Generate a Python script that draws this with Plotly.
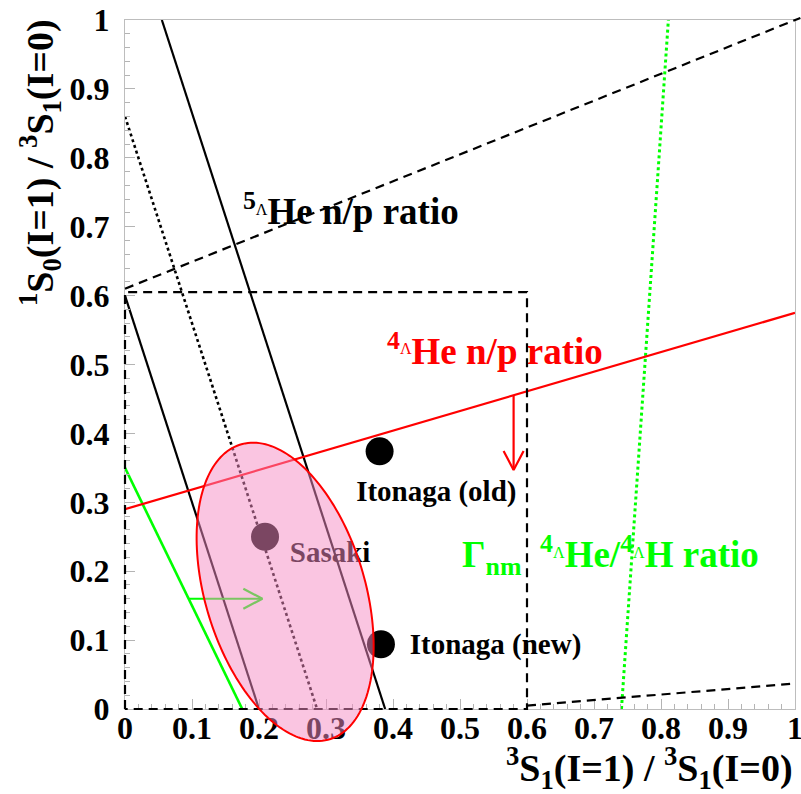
import numpy as np
import plotly.graph_objects as go

# ---------------------------------------------------------------
# axis ranges and ticks
x_range = [0.0, 1.0]
y_range = [0.0, 1.0]
tick_vals = [0.0, 0.1, 0.2, 0.3, 0.4, 0.5, 0.6, 0.7, 0.8, 0.9, 1.0]
tick_text = ["0", "0.1", "0.2", "0.3", "0.4", "0.5", "0.6", "0.7", "0.8", "0.9", "1"]

# decay-width constraint bands (black): y = c - 3 x
band_slope = -3.0
band_lo_c = 0.60
band_mid_c = 0.86
band_hi_c = 1.165

# 5ΛHe n/p ratio limits (black dashed)
he5_upper_x = [0.0, 1.008]
he5_upper_y = [0.61, 1.003]
he5_lower_x = [0.6, 1.0]
he5_lower_y = [0.005, 0.037]
he5_box_x = [0.0, 0.0, 0.6, 0.6, 0.0]
he5_box_y = [0.0, 0.605, 0.605, 0.0, 0.0]

# 4ΛHe n/p ratio (red) and its allowed side
he4_np_x = [0.0, 1.0]
he4_np_y = [0.29, 0.575]
he4_arrow_x = 0.58
he4_arrow_end_y = 0.347

# Γnm 4ΛHe / 4ΛH ratio (green)
gnm_solid_x = [0.0, 0.175]
gnm_solid_y = [0.35, 0.0]
gnm_dotted_x = [0.741, 0.811]
gnm_dotted_y = [0.0, 1.0]
gnm_arrow_y = 0.16
gnm_arrow_end_x = 0.205

# theoretical predictions
model_names = ["Itonaga (old)", "Itonaga (new)", "Sasaki"]
model_x = [0.380, 0.382, 0.209]
model_y = [0.374, 0.094, 0.250]

# allowed region (ellipse): centre, semi-axes, tilt in degrees
region_cx, region_cy = 0.239, 0.170
region_a, region_b = 0.224, 0.119
region_tilt = 107.6

FONT = "Liberation Serif, Times New Roman, Times, serif"
BLACK, RED, GREEN = "#000000", "#ff0000", "#00ff00"


def to_paper_x(v):
    return (v - x_range[0]) / (x_range[1] - x_range[0])


def to_paper_y(v):
    return (v - y_range[0]) / (y_range[1] - y_range[0])


def band_line(c):
    xs = np.array([max(0.0, (c - 1.0) / -band_slope), c / -band_slope])
    return xs, c + band_slope * xs


fig = go.Figure()

# black constraint lines
for c, dash in [(band_lo_c, "solid"), (band_hi_c, "solid"), (band_mid_c, "3px,3px")]:
    bx, by = band_line(c)
    fig.add_trace(go.Scatter(x=bx, y=by, mode="lines",
                             line=dict(color=BLACK, width=2.2 if dash == "solid" else 2.6, dash=dash),
                             hoverinfo="skip", showlegend=False))

# green lines
fig.add_trace(go.Scatter(x=gnm_solid_x, y=gnm_solid_y, mode="lines",
                         line=dict(color=GREEN, width=2.6), showlegend=False, hoverinfo="skip"))
fig.add_trace(go.Scatter(x=gnm_dotted_x, y=gnm_dotted_y, mode="lines",
                         line=dict(color=GREEN, width=3, dash="3px,3px"), showlegend=False, hoverinfo="skip"))

# red n/p line
fig.add_trace(go.Scatter(x=he4_np_x, y=he4_np_y, mode="lines",
                         line=dict(color=RED, width=2.2), showlegend=False, hoverinfo="skip"))


def open_arrow(x0, y0, x1, y1, color, width, head_len_px=19, head_half_px=10):
    # arrow shaft plus open V head, head size given in screen pixels
    sx, sy = 670.0, 689.0
    dx, dy = (x1 - x0) * sx, (y1 - y0) * sy
    L = np.hypot(dx, dy)
    ux, uy = dx / L, dy / L
    px, py = -uy, ux
    hx1 = x1 + (-ux * head_len_px + px * head_half_px) / sx
    hy1 = y1 + (-uy * head_len_px + py * head_half_px) / sy
    hx2 = x1 + (-ux * head_len_px - px * head_half_px) / sx
    hy2 = y1 + (-uy * head_len_px - py * head_half_px) / sy
    fig.add_trace(go.Scatter(x=[x0, x1, None, hx1, x1, hx2], y=[y0, y1, None, hy1, y1, hy2],
                             mode="lines", line=dict(color=color, width=width),
                             showlegend=False, hoverinfo="skip"))


# red arrow from the n/p line downward
y_on_red = he4_np_y[0] + (he4_np_y[1] - he4_np_y[0]) * (he4_arrow_x - he4_np_x[0]) / (he4_np_x[1] - he4_np_x[0])
open_arrow(he4_arrow_x, y_on_red, he4_arrow_x, he4_arrow_end_y, RED, 2.2)

# green arrow from the green line to the right
x_on_green = gnm_solid_x[0] + (gnm_arrow_y - gnm_solid_y[0]) * (gnm_solid_x[1] - gnm_solid_x[0]) / (gnm_solid_y[1] - gnm_solid_y[0])
open_arrow(x_on_green, gnm_arrow_y, gnm_arrow_end_x, gnm_arrow_y, GREEN, 2.2)

# model points
fig.add_trace(go.Scatter(x=model_x, y=model_y, mode="markers",
                         marker=dict(color=BLACK, size=28, line=dict(width=0)),
                         cliponaxis=False, showlegend=False, hoverinfo="skip"))

# model labels (kept as trace text so the shaded region sits above them)
label_x = [0.345, 0.425, 0.246]
label_y = [0.312, 0.091, 0.224]
fig.add_trace(go.Scatter(x=label_x, y=label_y, mode="text",
                         text=[f"<b>{n}</b>" for n in model_names],
                         textposition="middle right",
                         textfont=dict(family=FONT, size=29, color=BLACK),
                         cliponaxis=False, showlegend=False, hoverinfo="skip"))

# curve labels
LAM = "<span style='font-size:23px;font-weight:normal'><sup>Λ</sup></span>"
curve_labels = [
    (f"<b><sup>5</sup>{LAM}He n/p ratio</b>", 0.176, 0.717, BLACK),
    (f"<b><sup>4</sup>{LAM}He n/p ratio</b>", 0.391, 0.514, RED),
    (f"<b>Γ<sub>nm</sub>  <sup>4</sup>{LAM}He/<sup>4</sup>{LAM}H ratio</b>", 0.503, 0.219, GREEN),
]
for txt, lx, ly, col in curve_labels:
    fig.add_trace(go.Scatter(x=[lx], y=[ly], mode="text", text=[txt], textposition="middle right",
                             textfont=dict(family=FONT, size=37, color=col),
                             cliponaxis=False, showlegend=False, hoverinfo="skip"))

# dashed 5ΛHe limits as unclipped shapes
dash_style = dict(color=BLACK, width=2.2, dash="9px,6px")


def dashed_path(xs, ys):
    pts = [f"{to_paper_x(a):.5f},{to_paper_y(b):.5f}" for a, b in zip(xs, ys)]
    return "M" + " L".join(pts)


for xs, ys in [(he5_upper_x, he5_upper_y), (he5_lower_x, he5_lower_y), (he5_box_x, he5_box_y)]:
    fig.add_shape(type="path", path=dashed_path(xs, ys), xref="paper", yref="paper",
                  line=dash_style, layer="above")

# allowed region ellipse
t = np.linspace(0, 2 * np.pi, 181)
phi = np.radians(region_tilt)
ex = region_cx + region_a * np.cos(phi) * np.cos(t) - region_b * np.sin(phi) * np.sin(t)
ey = region_cy + region_a * np.sin(phi) * np.cos(t) + region_b * np.cos(phi) * np.sin(t)
epath = "M" + " L".join(f"{to_paper_x(a):.5f},{to_paper_y(b):.5f}" for a, b in zip(ex, ey)) + " Z"
fig.add_shape(type="path", path=epath, xref="paper", yref="paper",
              fillcolor="rgba(245,140,195,0.5)", line=dict(color=RED, width=2), layer="above")

tick_labels = [f"<b>{s}</b>" for s in tick_text]
axis_common = dict(
    tickvals=tick_vals, ticktext=tick_labels, ticks="inside", ticklen=10,
    tickcolor="#b4b4b4", tickwidth=1, showgrid=False, zeroline=False,
    showline=True, linecolor="#bdbdbd", linewidth=1, mirror=True,
    automargin=False, ticklabeloverflow="allow",
    tickfont=dict(family=FONT, size=32, color=BLACK),
    minor=dict(dtick=0.02, ticks="inside", ticklen=5, tickcolor="#b4b4b4", showgrid=False),
)
xa = dict(axis_common, range=x_range, ticklabelstandoff=-9)
ya = dict(axis_common, range=y_range, ticklabelstandoff=8)

fig.update_layout(
    width=801, height=794,
    margin=dict(l=125, r=6, t=20, b=85),
    paper_bgcolor="white", plot_bgcolor="white",
    font=dict(family=FONT, size=26, color=BLACK),
    xaxis=xa, yaxis=ya,
    showlegend=False,
    annotations=[
        dict(text="<b><sup>3</sup>S<sub>1</sub>(I=1) / <sup>3</sup>S<sub>1</sub>(I=0)</b>",
             xref="paper", yref="paper", x=1.0, y=-0.086, xanchor="right", yanchor="middle",
             showarrow=False, font=dict(family=FONT, size=38, color=BLACK)),
        dict(text="<b><sup>1</sup>S<sub>0</sub>(I=1) / <sup>3</sup>S<sub>1</sub>(I=0)</b>",
             xref="paper", yref="paper", x=-0.127, y=1.005, xanchor="center", yanchor="top",
             textangle=-90, showarrow=False,
             font=dict(family=FONT, size=38, color=BLACK)),
    ],
)

fig.write_html("out.html")
